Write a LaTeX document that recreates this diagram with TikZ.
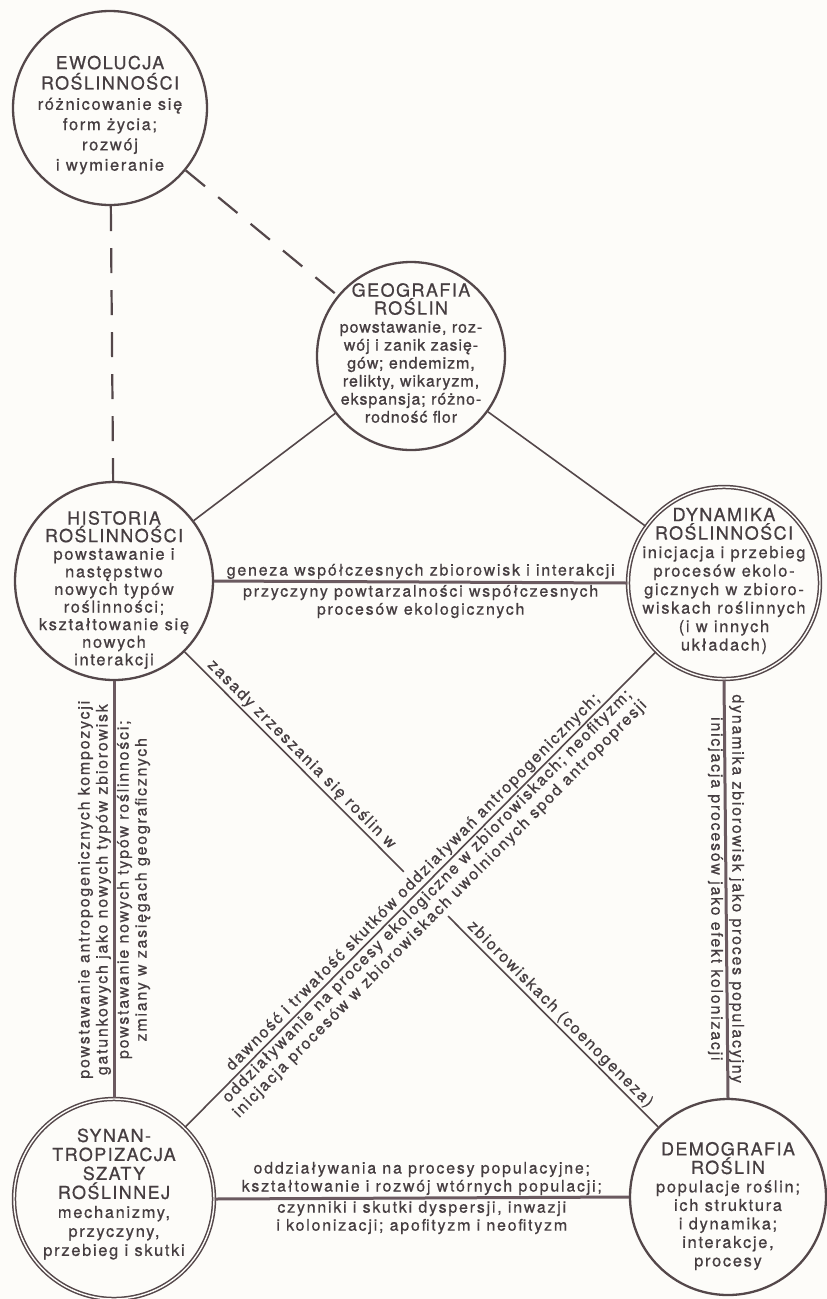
\documentclass[tikz,border=0pt]{standalone}
\usepackage{fontspec}
\setmainfont{TeX Gyre Heros}[LetterSpace=10, FakeBold=0.6]
\newfontfamily\titlefont{TeX Gyre Heros}[LetterSpace=8, FakeBold=0.6]
\newfontfamily\geofont{TeX Gyre Heros}[LetterSpace=6, FakeBold=0.9]
\newfontfamily\lblfont{TeX Gyre Heros}[LetterSpace=11, FakeBold=0.6]
\usetikzlibrary{calc}
\definecolor{ink}{HTML}{463E41}
\definecolor{edgecol}{HTML}{54474A}
\definecolor{heavycol}{HTML}{6B5A60}
\definecolor{paper}{HTML}{FDFCF9}
\tikzset{
  bubble/.style={circle, draw=edgecol, line width=2.3pt, inner sep=0pt},
  dbubble/.style={circle, draw=edgecol, line width=1.5pt, double=paper, double distance=1.4pt, inner sep=0pt},
  ctext/.style={text=ink, align=center, inner sep=0pt, font=\fontsize{16.5}{18.5}\selectfont},
  lightedge/.style={draw=edgecol, line width=1.6pt},
  heavyedge/.style={draw=heavycol, line width=3pt},
  dashedge/.style={draw=edgecol, line width=2.2pt, dash pattern=on 25pt off 17pt},
  lbl/.style={text=ink, align=center, inner sep=1.5pt, font=\lblfont\fontsize{16}{18}\selectfont},
}
\newcommand\ttl[1]{{\titlefont\fontsize{18}{20}\selectfont #1}}
\begin{document}
\begin{tikzpicture}[x=1pt, y=-1pt]
\fill[paper] (0,0) rectangle (827,1299);
\useasboundingbox (0,0) rectangle (827,1299);

% circles
\node[bubble, minimum size=194pt] (evo) at (110,108) {};
\node[bubble, minimum size=188pt] (geo) at (411,356) {};
\node[bubble, minimum size=198pt] (hist) at (114,581) {};
\node[dbubble, minimum size=192pt] (dyn) at (724,583) {};
\node[dbubble, minimum size=200pt] (syn) at (114,1199) {};
\node[bubble, minimum size=196pt] (dem) at (728,1197) {};

% circle texts
\node[ctext, font=\fontsize{16.5}{20.3}\selectfont] (evotxt) at ([yshift=-7pt]evo) {\ttl{EWOLUCJA}\\\ttl{ROŚLINNOŚCI}\\różnicowanie się\\form życia;\\rozwój\\i wymieranie};
\node[ctext, font=\geofont\fontsize{16}{18}\selectfont] (geotxt) at ([yshift=3pt]geo) {\ttl{GEOGRAFIA}\\\ttl{ROŚLIN}\\powstawanie, roz-\\wój i zanik zasię-\\gów; endemizm,\\relikty, wikaryzm,\\ekspansja; różno-\\rodność flor};
\node[ctext, font=\fontsize{16.5}{17.6}\selectfont] (histtxt) at ([yshift=-9pt]hist) {\ttl{HISTORIA}\\\ttl{ROŚLINNOŚCI}\\powstawanie i\\następstwo\\nowych typów\\roślinności;\\kształtowanie się\\nowych\\interakcji};
\node[ctext] (dyntxt) at ([yshift=2pt]dyn) {\ttl{DYNAMIKA}\\\ttl{ROŚLINNOŚCI}\\inicjacja i przebieg\\procesów ekolo-\\gicznych w zbioro-\\wiskach roślinnych\\(i w innych\\układach)};
\node[ctext, font=\fontsize{16.5}{19}\selectfont] (syntxt) at ([yshift=5pt]syn) {\ttl{SYNAN-}\\\ttl{TROPIZACJA}\\\ttl{SZATY}\\\ttl{ROŚLINNEJ}\\mechanizmy,\\przyczyny,\\przebieg i skutki};
\node[ctext] (demtxt) at ([yshift=-9pt]dem) {\ttl{DEMOGRAFIA}\\\ttl{ROŚLIN}\\populacje roślin;\\ich struktura\\i dynamika;\\interakcje,\\procesy};

% dashed links
\draw[dashedge] (evo) -- (hist);
\draw[dashedge] (evo) -- (geo);

% geography links
\draw[lightedge] (geo) -- (hist);
\draw[lightedge] (geo) -- (dyn);

% horizontal heavy links
\draw[heavyedge] (hist.east) -- node[lbl, above] {geneza współczesnych zbiorowisk i interakcji}
  node[lbl, below] {przyczyny powtarzalności współczesnych\\procesów ekologicznych} (dyn.west);
\draw[heavyedge] (syn.east) -- node[lbl, above] {oddziaływania na procesy populacyjne;\\kształtowanie i rozwój wtórnych populacji;}
  node[lbl, below] {czynniki i skutki dyspersji, inwazji\\i kolonizacji; apofityzm i neofityzm} (dem.west);

% vertical heavy links
\draw[heavyedge] (syn.north) -- node[lbl, rotate=90, above] {powstawanie antropogenicznych kompozycji\\gatunkowych jako nowych typów zbiorowisk}
  node[lbl, rotate=90, below] {powstawanie nowych typów roślinności;\\zmiany w zasięgach geograficznych} (hist.south);
\draw[heavyedge] (dyn.south) -- node[lbl, rotate=-90, above] {dynamika zbiorowisk jako proces populacyjny}
  node[lbl, rotate=-90, below] {inicjacja procesów jako efekt kolonizacji} (dem.north);

% diagonal links
\coordinate (gapA) at ($(hist)!0.472!(dem)$);
\coordinate (gapB) at ($(hist)!0.544!(dem)$);
\draw[lightedge] (hist) -- node[lbl, sloped, above] {zasady zrzeszania się roślin w} (gapA);
\draw[lightedge] (gapB) -- node[lbl, sloped, above] {zbiorowiskach (coenogeneza)} (dem);
\draw[lightedge] (syn) -- node[lbl, sloped, above] {dawność i trwałość skutków oddziaływań antropogenicznych;}
  node[lbl, sloped, below] {oddziaływanie na procesy ekologiczne w zbiorowiskach; neofityzm;\\inicjacja procesów w zbiorowiskach uwolnionych spod antropopresji} (dyn);
\end{tikzpicture}
\end{document}
